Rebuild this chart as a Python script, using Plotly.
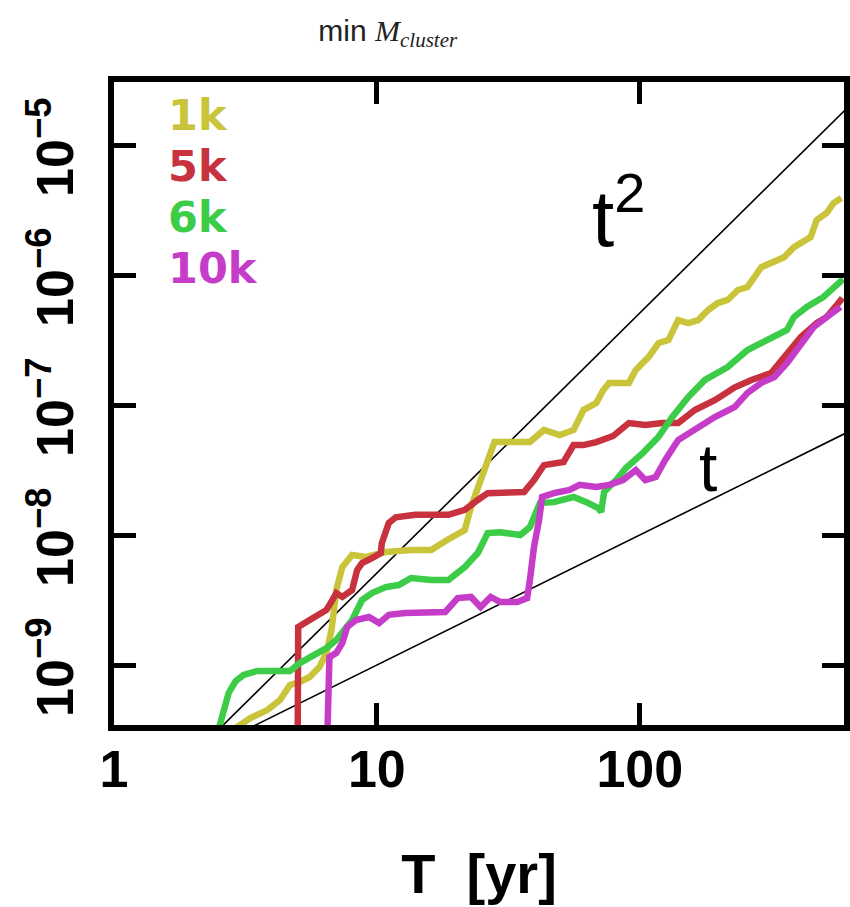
import plotly.graph_objects as go

# ---------------- data ----------------
series_names = ["1k", "5k", "6k", "10k"]
series_colors = ["#c9c43a", "#c8323f", "#3ccc48", "#c43cc8"]

t_1k = [2.85, 3.30, 3.83, 4.28, 4.67, 5.09, 5.55, 6.05, 6.43, 6.72, 6.89, 7.01, 7.39, 8.05, 9.09,
        10.8, 13.5, 16.1, 18.5, 21.6, 22.8, 24.2, 26.4, 28.0, 31.3, 38.2, 43.2, 49.6, 56.0, 61.1,
        68.3, 72.6, 76.5, 90.9, 96.6, 108, 118, 128.5, 140, 153, 167, 182, 198, 216, 236, 257,
        290, 316, 354, 386, 447, 471, 514, 546, 585]
m_1k = [3.2e-10, 3.9e-10, 4.5e-10, 5.38e-10, 7.02e-10, 7.4e-10, 8.09e-10, 9.66e-10, 1.24e-9,
        1.86e-9, 2.79e-9, 3.78e-9, 5.68e-9, 7.02e-9, 6.78e-9, 7.4e-9, 7.67e-9, 7.67e-9, 9.15e-9,
        1.09e-8, 1.64e-8, 2.34e-8, 3.98e-8, 5.19e-8, 5.19e-8, 5.19e-8, 6.43e-8, 5.88e-8, 6.43e-8,
        9.16e-8, 1.035e-7, 1.30e-7, 1.48e-7, 1.48e-7, 1.86e-7, 2.34e-7, 3.0e-7, 3.16e-7, 4.5e-7,
        4.27e-7, 4.5e-7, 5.38e-7, 6.09e-7, 6.43e-7, 7.67e-7, 8.09e-7, 1.15e-6, 1.24e-6, 1.37e-6,
        1.64e-6, 1.96e-6, 2.65e-6, 3.0e-6, 3.58e-6, 3.91e-6]

t_5k = [5.00, 5.02, 5.55, 6.43, 6.77, 7.01, 7.39, 8.05, 8.41, 8.78, 9.58, 10.35, 10.44, 11.1,
        11.8, 14.0, 18.7, 21.6, 24.2, 26.4, 36.3, 39.6, 43.2, 51.3, 56.0, 61.1, 68.3, 79.2,
        90.9, 105, 122, 140, 162, 193, 230, 266, 316, 363, 410, 471, 514, 570, 590]
m_5k = [3.2e-10, 1.96e-9, 2.22e-9, 2.65e-9, 3.16e-9, 3.58e-9, 3.34e-9, 3.78e-9, 5.38e-9, 6.09e-9,
        6.65e-9, 7.27e-9, 8.67e-9, 1.24e-8, 1.37e-8, 1.43e-8, 1.43e-8, 1.56e-8, 1.86e-8, 2.10e-8,
        2.14e-8, 2.65e-8, 3.45e-8, 3.65e-8, 4.92e-8, 4.92e-8, 5.19e-8, 5.78e-8, 7.27e-8, 7.02e-8,
        7.27e-8, 7.27e-8, 9.16e-8, 1.09e-7, 1.37e-7, 1.56e-7, 1.76e-7, 2.51e-7, 3.34e-7, 4.27e-7,
        4.75e-7, 6.09e-7, 6.65e-7]

t_6k = [2.50, 2.55, 2.61, 2.73, 2.90, 3.11, 3.51, 4.17, 4.67, 5.09, 5.70, 6.43, 7.01, 7.65, 8.05,
        8.78, 9.58, 10.8, 12.1, 13.5, 16.1, 18.7, 21.6, 24.2, 26.4, 29.5, 35.1, 38.2, 41.7, 47.1,
        56.0, 62.7, 69.5, 71.3, 73.2, 81.3, 88.6, 102.6, 117.8, 133, 152.8, 177, 216, 257, 316,
        363, 386, 432, 500, 570, 594]
m_6k = [3.2e-10, 3.7e-10, 4.7e-10, 6.1e-10, 7.5e-10, 8.38e-10, 9.0e-10, 9.15e-10, 9.0e-10,
        1.035e-9, 1.19e-9, 1.35e-9, 1.56e-9, 1.96e-9, 2.22e-9, 3.16e-9, 3.58e-9, 3.98e-9, 4.12e-9,
        4.67e-9, 4.5e-9, 4.5e-9, 5.67e-9, 7.27e-9, 1.035e-8, 1.05e-8, 1.0e-8, 1.15e-8, 1.76e-8,
        1.79e-8, 1.96e-8, 1.79e-8, 1.61e-8, 1.5e-8, 2.14e-8, 2.65e-8, 3.27e-8, 4.27e-8, 5.68e-8,
        8.09e-8, 1.15e-7, 1.56e-7, 1.96e-7, 2.65e-7, 3.27e-7, 3.78e-7, 4.75e-7, 5.68e-7, 6.78e-7,
        8.67e-7, 9.3e-7]

t_10k = [6.49, 6.60, 7.01, 7.39, 7.71, 8.34, 9.33, 10.2, 11.1, 12.8, 18.2, 20.3, 22.8, 24.8, 27.1,
         29.5, 34.2, 37.3, 38.2, 39.6, 41.4, 42.5, 47.1, 54.1, 59.0, 68.3, 76.5, 86.3, 96.6, 105,
         115, 125, 140, 162, 193, 230, 257, 290, 325, 363, 410, 459, 514, 580]
m_10k = [3.2e-10, 1.15e-9, 1.24e-9, 1.48e-9, 1.96e-9, 2.22e-9, 2.34e-9, 2.10e-9, 2.43e-9, 2.51e-9,
         2.56e-9, 3.27e-9, 3.34e-9, 2.79e-9, 3.34e-9, 3.05e-9, 3.05e-9, 3.27e-9, 4.5e-9, 8.09e-9,
         1.30e-8, 1.96e-8, 2.10e-8, 2.22e-8, 2.43e-8, 2.34e-8, 2.43e-8, 2.65e-8, 3.16e-8, 2.65e-8,
         2.79e-8, 3.78e-8, 5.38e-8, 6.43e-8, 8.09e-8, 9.66e-8, 1.24e-7, 1.48e-7, 1.64e-7, 2.10e-7,
         3.0e-7, 3.98e-7, 4.75e-7, 5.68e-7]

# guide lines (end points)
guide_T = [1, 1000]
guide_t2 = [5.1e-11, 5.1e-5]
guide_t1 = [1.0e-10, 1.0e-7]

x_tickvals = [1, 10, 100, 1000]
x_ticktext = ["1", "10", "100", "1000"]
y_tickvals = [1e-9, 1e-8, 1e-7, 1e-6, 1e-5]
y_ticktext = ["10<sup>\u22129</sup>", "10<sup>\u22128</sup>", "10<sup>\u22127</sup>",
              "10<sup>\u22126</sup>", "10<sup>\u22125</sup>"]

# ---------------- layout geometry ----------------
W, H = 850, 907
PL, PR, PT, PB = 114, 850, 82, 725


def px(xp):
    return (xp - PL) / (PR - PL)


def py(yp):
    return (PB - yp) / (PB - PT)


SANS = "Liberation Sans, Arial, sans-serif"
LEG = "DejaVu Sans, Liberation Sans, sans-serif"

fig = go.Figure()

data = [(t_1k, m_1k), (t_5k, m_5k), (t_6k, m_6k), (t_10k, m_10k)]
fig.add_trace(go.Scatter(x=guide_T, y=guide_t2, mode="lines",
                         line=dict(color="black", width=1.6), showlegend=False, hoverinfo="skip"))
fig.add_trace(go.Scatter(x=guide_T, y=guide_t1, mode="lines",
                         line=dict(color="black", width=1.6), showlegend=False, hoverinfo="skip"))
for name, color, (ts, ms) in zip(series_names, series_colors, data):
    fig.add_trace(go.Scatter(x=ts, y=ms, mode="lines", name=name,
                             line=dict(color=color, width=6.5, shape="linear"),
                             showlegend=False))

annotations = []
leg_y = [115, 166, 217, 268]
for name, color, yy in zip(series_names, series_colors, leg_y):
    annotations.append(dict(text=name, xref="paper", yref="paper", x=px(166), y=py(yy),
                            xanchor="left", yanchor="middle", showarrow=False,
                            font=dict(family=LEG, size=43, color=color, weight=700)))
annotations.append(dict(text="t<sup>2</sup>", xref="paper", yref="paper", x=px(594), y=py(212),
                        xanchor="left", yanchor="middle", showarrow=False,
                        font=dict(family=SANS, size=80, color="black")))
annotations.append(dict(text="t", xref="paper", yref="paper", x=px(702), y=py(468),
                        xanchor="left", yanchor="middle", showarrow=False,
                        font=dict(family=SANS, size=66, color="black")))

fig.update_layout(
    width=W, height=H,
    margin=dict(l=PL, r=W - PR, t=PT, b=H - PB, pad=0),
    paper_bgcolor="white", plot_bgcolor="white",
    title=dict(
        text="min <span style=\"font-family:'Liberation Serif',serif\"><i>M</i><sub><i>cluster</i></sub></span>",
        xref="paper", x=px(390), xanchor="center", yref="container", y=1 - 30 / H, yanchor="middle",
        font=dict(family=SANS, size=30, color="#222")),
    annotations=annotations,
)

fig.update_xaxes(type="log", range=[0, 2.777], tickvals=x_tickvals, ticktext=x_ticktext,
                 ticks="inside", ticklen=22, tickwidth=5, tickcolor="black",
                 showline=True, linewidth=6, linecolor="black", mirror="ticks",
                 showgrid=False, zeroline=False,
                 tickfont=dict(family=SANS, size=52, color="black", weight=700),
                 ticklabelstandoff=-6,
                 title=dict(text="T  [yr]", standoff=58,
                            font=dict(family=SANS, size=56, color="black", weight=700)))
fig.update_yaxes(type="log", range=[-9.4615, -4.515], tickvals=y_tickvals, ticktext=y_ticktext,
                 ticks="inside", ticklen=22, tickwidth=5, tickcolor="black",
                 showline=True, linewidth=6, linecolor="black", mirror="ticks",
                 showgrid=False, zeroline=False, tickangle=-90,
                 tickfont=dict(family=SANS, size=52, color="black", weight=700),
                 ticklabelstandoff=14, ticklabelshift=10)

fig.write_html("out.html")
